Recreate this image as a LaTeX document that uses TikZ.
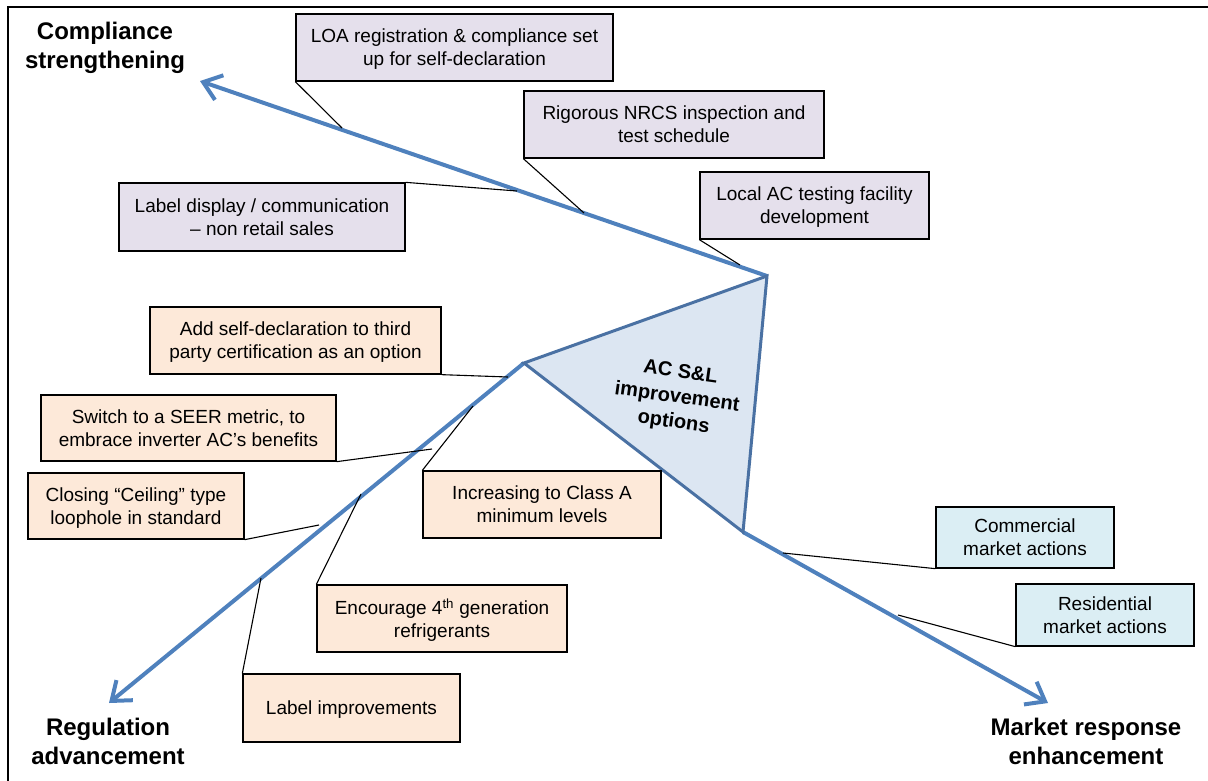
\documentclass[tikz,border=0pt]{standalone}
\usepackage{fontspec}
\setmainfont{Liberation Sans}
\usetikzlibrary{arrows.meta}
\definecolor{axisblue}{HTML}{4F81BD}
\definecolor{triedge}{HTML}{4A71A3}
\definecolor{trifill}{HTML}{DCE6F2}
\definecolor{lilac}{HTML}{E5E0EC}
\definecolor{peach}{HTML}{FDE9D9}
\definecolor{paleblue}{HTML}{DBEEF4}
\begin{document}
\begin{tikzpicture}[x=1pt,y=-1pt,
  axis/.style={line width=4pt, draw=axisblue, -{Straight Barb[length=17pt,width=26pt]}},
  tri/.style={line width=3pt, draw=triedge, fill=trifill, line join=miter},
  optbox/.style={draw=black, line width=1.3pt, inner sep=0pt, align=center, text depth=0pt,
    font=\fontsize{19}{23}\selectfont},
  compbox/.style={optbox, fill=lilac},
  regbox/.style={optbox, fill=peach},
  mktbox/.style={optbox, fill=paleblue},
  heading/.style={inner sep=0pt, align=center, font=\fontsize{24}{29}\selectfont\bfseries},
  leader/.style={draw=black, line width=1.1pt}]
\useasboundingbox (0,0) rectangle (1208,780);
% frame
\draw[line width=2pt] (1212,7) -- (8,7) -- (8,784);
% triangle vertices and arrow tips
\coordinate (va) at (524,363);
\coordinate (vb) at (767,276);
\coordinate (vc) at (743,532);
\coordinate (tipC) at (200,81);
\coordinate (tipR) at (109,703);
\coordinate (tipM) at (1048,703);
% axes
\draw[axis] (vb) -- (tipC);
\draw[axis] (va) -- (tipR);
\draw[axis] (vc) -- (tipM);
% core triangle
\draw[tri] (va) -- (vb) -- (vc) -- cycle;
\node[rotate=-8, inner sep=0pt, align=center, font=\fontsize{20}{25}\selectfont\bfseries] (core) at (677,398) {AC S\&L\\improvement\\options};
% headings
\node[heading] (hcomp) at (105,48) {Compliance\\strengthening};
\node[heading] (hreg) at (108,741.5) {Regulation\\advancement};
\node[heading] (hmkt) at (1086,741.5) {Market response\\enhancement};
% attachment points on axes
\coordinate (p1) at (342,128);
\coordinate (p2) at (584,213);
\coordinate (p3) at (740,265);
\coordinate (p4) at (517,191);
\coordinate (p5) at (508,377);
\coordinate (p6) at (432,449);
\coordinate (p7) at (319,525);
\coordinate (p8) at (473,406);
\coordinate (p9) at (361,494);
\coordinate (p10) at (261,578);
\coordinate (p11) at (783,553);
\coordinate (p12) at (898,615);
% boxes
\node[compbox, minimum width=317pt, minimum height=67pt] (loa) at (454.5,47.5) {LOA registration \& compliance set\\up for self-declaration};
\node[compbox, minimum width=300pt, minimum height=67pt] (nrcs) at (674,124.5) {Rigorous NRCS inspection and\\test schedule};
\node[compbox, minimum width=229pt, minimum height=67pt] (localac) at (814.5,205.5) {Local AC testing facility\\development};
\node[compbox, minimum width=286pt, minimum height=68pt] (labeldisp) at (262,217) {Label display / communication\\– non retail sales};
\node[regbox, minimum width=291pt, minimum height=67pt] (addself) at (295.5,340.5) {Add self-declaration to third\\party certification as an option};
\node[regbox, minimum width=295pt, minimum height=66pt] (seer) at (188.5,428) {Switch to a SEER metric, to\\embrace inverter AC’s benefits};
\node[regbox, minimum width=216pt, minimum height=66pt] (ceiling) at (136,506) {Closing “Ceiling” type\\loophole in standard};
\node[regbox, minimum width=238pt, minimum height=67pt] (classa) at (542,504.5) {Increasing to Class A\\minimum levels};
\node[regbox, minimum width=250pt, minimum height=67pt] (refrig) at (442,618.5) {Encourage 4\textsuperscript{th} generation\\refrigerants};
\node[regbox, minimum width=217pt, minimum height=68pt] (labelimp) at (351.5,708) {Label improvements};
\node[mktbox, minimum width=178pt, minimum height=61pt] (commercial) at (1025,537.5) {Commercial\\market actions};
\node[mktbox, minimum width=178pt, minimum height=62pt] (residential) at (1105,615) {Residential\\market actions};
% leaders
\draw[leader] (loa.south west) -- (p1);
\draw[leader] (nrcs.south west) -- (p2);
\draw[leader] (localac.south west) -- (p3);
\draw[leader] (labeldisp.north east) -- (p4);
\draw[leader] (addself.south east) -- (p5);
\draw[leader] (seer.south east) -- (p6);
\draw[leader] (ceiling.south east) -- (p7);
\draw[leader] (classa.north west) -- (p8);
\draw[leader] (refrig.north west) -- (p9);
\draw[leader] (labelimp.north west) -- (p10);
\draw[leader] (commercial.south west) -- (p11);
\draw[leader] (residential.south west) -- (p12);
\end{tikzpicture}
\end{document}
